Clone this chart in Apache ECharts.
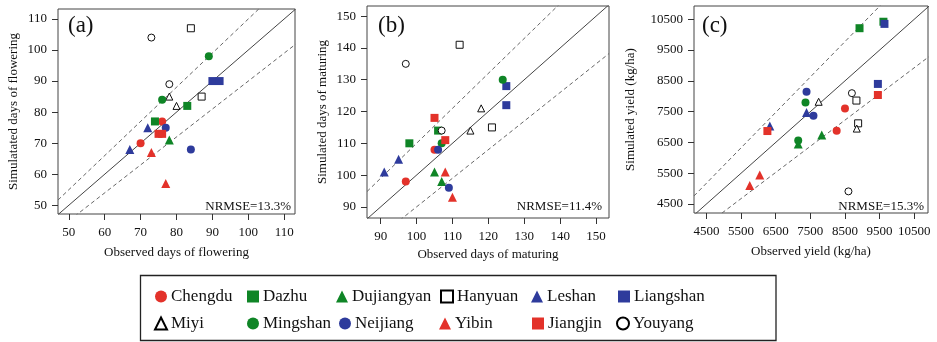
<!DOCTYPE html>
<html>
<head>
<meta charset="utf-8">
<script src="https://cdn.jsdelivr.net/npm/echarts@6/dist/echarts.min.js"></script>
<style>
  html, body { margin: 0; padding: 0; background: #fff; }
  #main { width: 937px; height: 342px; }
</style>
</head>
<body>
<div id="main"></div>
<script>
  // stations in legend order
  const stations = ['Chengdu', 'Dazhu', 'Dujiangyan', 'Hanyuan', 'Leshan', 'Liangshan',
    'Miyi', 'Mingshan', 'Neijiang', 'Yibin', 'Jiangjin', 'Youyang']

  // [station, observed, simulated]
  const flowering = [
    ['Chengdu', 76, 77], ['Chengdu', 70, 70],
    ['Dazhu', 74, 77], ['Dazhu', 83, 82],
    ['Dujiangyan', 78, 71],
    ['Hanyuan', 84, 107], ['Hanyuan', 87, 85],
    ['Leshan', 72, 75], ['Leshan', 67, 68],
    ['Liangshan', 90, 90], ['Liangshan', 92, 90],
    ['Miyi', 78, 85], ['Miyi', 80, 82],
    ['Mingshan', 89, 98], ['Mingshan', 76, 84],
    ['Neijiang', 77, 75], ['Neijiang', 84, 68],
    ['Yibin', 73, 67], ['Yibin', 77, 57],
    ['Jiangjin', 75, 73], ['Jiangjin', 76, 73],
    ['Youyang', 73, 104], ['Youyang', 78, 89]
  ]
  const maturing = [
    ['Chengdu', 105, 108], ['Chengdu', 97, 98],
    ['Dazhu', 106, 114], ['Dazhu', 98, 110],
    ['Dujiangyan', 105, 101], ['Dujiangyan', 107, 98],
    ['Hanyuan', 112, 141], ['Hanyuan', 121, 115],
    ['Leshan', 95, 105], ['Leshan', 91, 101],
    ['Liangshan', 125, 128], ['Liangshan', 125, 122],
    ['Miyi', 118, 121], ['Miyi', 115, 114],
    ['Mingshan', 124, 130], ['Mingshan', 107, 110],
    ['Neijiang', 106, 108], ['Neijiang', 109, 96],
    ['Yibin', 108, 101], ['Yibin', 110, 93],
    ['Jiangjin', 105, 118], ['Jiangjin', 108, 111],
    ['Youyang', 97, 135], ['Youyang', 107, 114]
  ]
  const yieldData = [
    ['Chengdu', 8500, 7600], ['Chengdu', 8260, 6880],
    ['Dazhu', 8920, 10210], ['Dazhu', 9610, 10420],
    ['Dujiangyan', 7830, 6740], ['Dujiangyan', 7150, 6450],
    ['Hanyuan', 8830, 7860], ['Hanyuan', 8880, 7120],
    ['Leshan', 7390, 7470], ['Leshan', 6330, 7030],
    ['Liangshan', 9640, 10350], ['Liangshan', 9450, 8400],
    ['Miyi', 7740, 7820], ['Miyi', 8840, 6950],
    ['Mingshan', 7360, 7800], ['Mingshan', 7150, 6560],
    ['Neijiang', 7390, 8150], ['Neijiang', 7590, 7370],
    ['Yibin', 6040, 5440], ['Yibin', 5750, 5100],
    ['Jiangjin', 9450, 8040], ['Jiangjin', 6260, 6870],
    ['Youyang', 8700, 8100], ['Youyang', 8600, 4910]
  ]

  // tick labels
  const floweringTicks = [50, 60, 70, 80, 90, 100, 110]
  const maturingTicks = [90, 100, 110, 120, 130, 140, 150]
  const yieldTicks = [4500, 5500, 6500, 7500, 8500, 9500, 10500]
  const nrmse = ['NRMSE=13.3%', 'NRMSE=11.4%', 'NRMSE=15.3%']

  const RED = '#e3322a'
  const GREEN = '#0f8526'
  const BLUE = '#2e3b9c'
  const stationColors = [RED, GREEN, GREEN, null, BLUE, BLUE, null, GREEN, BLUE, RED, RED, null]
  const stationSymbols = ['circle', 'rect', 'triangle', 'rect', 'triangle', 'rect',
    'triangle', 'circle', 'circle', 'triangle', 'rect', 'circle']

  const FONT = '"Liberation Serif", "Times New Roman", serif'

  const panels = [
    {
      data: flowering, ticks: floweringTicks, band: 0.1,
      x: [47, 113], y: [47.2, 113.2],
      grid: { left: 58, top: 9, width: 237, height: 205 },
      xName: 'Observed days of flowering', yName: 'Simulatated days of flowering',
      xGap: 32, yGap: 38, label: '(a)', labelX: 68, textX: 291
    },
    {
      data: maturing, ticks: maturingTicks, band: 0.1,
      x: [86.2, 153.6], y: [86.5, 153.2],
      grid: { left: 367, top: 6, width: 242, height: 212 },
      xName: 'Observed days of maturing', yName: 'Simulated days of maturing',
      xGap: 30, yGap: 38, label: '(b)', labelX: 378, textX: 602
    },
    {
      data: yieldData, ticks: yieldTicks, band: 0.15,
      x: [4141, 10897], y: [4208, 10931],
      grid: { left: 694, top: 6, width: 234, height: 207 },
      xName: 'Observed yield (kg/ha)', yName: 'Simulated yield (kg/ha)',
      xGap: 32, yGap: 57, label: '(c)', labelX: 702, textX: 924
    }
  ]

  function makeAxis (p, i, isX) {
    let range = isX ? p.x : p.y
    return {
      type: 'value',
      gridIndex: i,
      min: range[0],
      max: range[1],
      name: isX ? p.xName : p.yName,
      nameLocation: 'middle',
      nameGap: isX ? p.xGap : p.yGap,
      nameTextStyle: { fontFamily: FONT, fontSize: 13, color: '#111' },
      axisLine: { show: false },
      splitLine: { show: false },
      axisTick: { show: true, length: 6, customValues: p.ticks, lineStyle: { color: '#333' } },
      axisLabel: {
        customValues: p.ticks,
        formatter: function (v) { return String(v) },
        fontFamily: FONT, fontSize: 13, color: '#111',
        margin: isX ? 12 : 11
      }
    }
  }

  function symbolStyle (k) {
    if (stationColors[k]) {
      return { color: stationColors[k], opacity: 1 }
    }
    return { color: '#fff', borderColor: '#111', borderWidth: 1, opacity: 1 }
  }

  let series = []
  panels.forEach(function (p, i) {
    // 1:1 line and +-band lines, clipped to the plot box
    let lo = Math.min(p.x[0], p.y[0])
    let hi = Math.max(p.x[1], p.y[1])
    ;[1, 1 + p.band, 1 - p.band].forEach(function (r, j) {
      series.push({
        type: 'line',
        xAxisIndex: i,
        yAxisIndex: i,
        silent: true,
        clip: true,
        symbol: 'none',
        data: [[lo, lo * r], [hi, hi * r]],
        lineStyle: j === 0
          ? { color: '#444', width: 1 }
          : { color: '#666', width: 1, type: [4, 3] },
        z: 1
      })
    })
    stations.forEach(function (s, k) {
      let open = !stationColors[k]
      let sym = stationSymbols[k]
      series.push({
        type: 'scatter',
        name: s,
        xAxisIndex: i,
        yAxisIndex: i,
        symbol: sym,
        symbolSize: open ? 7 : (sym === 'triangle' ? 9 : 8),
        itemStyle: symbolStyle(k),
        data: p.data.filter(function (r) { return r[0] === s })
          .map(function (r) { return [r[1], r[2]] }),
        z: 3
      })
    })
  })

  // legend layout: two rows of six
  const legendLeft = [155, 247, 336, 440, 531, 618, 154, 247, 339, 439, 532, 616]
  const legendTop = [288, 315]
  let legends = stations.map(function (s, k) {
    let open = !stationColors[k]
    return {
      data: [s],
      left: legendLeft[k],
      top: legendTop[Math.floor(k / 6)],
      padding: 0,
      itemWidth: 12,
      itemHeight: 12,
      selectedMode: false,
      itemStyle: open ? { borderWidth: 2, borderColor: '#000', opacity: 1 } : { opacity: 1 },
      textStyle: { fontFamily: FONT, fontSize: 17, color: '#111', padding: [0, 0, 0, -1] }
    }
  })

  let graphics = [{
    type: 'rect',
    shape: { x: 140.5, y: 275.5, width: 635.5, height: 65 },
    style: { fill: 'none', stroke: '#222', lineWidth: 1.3 }
  }]
  panels.forEach(function (p, i) {
    graphics.push({
      type: 'text',
      x: p.labelX,
      y: 26,
      style: { text: p.label, font: '23px ' + FONT, fill: '#111', verticalAlign: 'middle', align: 'left' }
    })
    graphics.push({
      type: 'text',
      x: p.textX,
      y: 207,
      style: { text: nrmse[i], font: '13px ' + FONT, fill: '#111', verticalAlign: 'middle', align: 'right' }
    })
  })

  let chart = echarts.init(document.getElementById('main'))
  chart.setOption({
    animation: false,
    backgroundColor: '#fff',
    grid: panels.map(function (p) {
      return Object.assign({ show: true, borderColor: '#444', borderWidth: 1, backgroundColor: 'transparent' }, p.grid)
    }),
    xAxis: panels.map(function (p, i) { return makeAxis(p, i, true) }),
    yAxis: panels.map(function (p, i) { return makeAxis(p, i, false) }),
    legend: legends,
    graphic: graphics,
    series: series
  })
</script>
</body>
</html>
